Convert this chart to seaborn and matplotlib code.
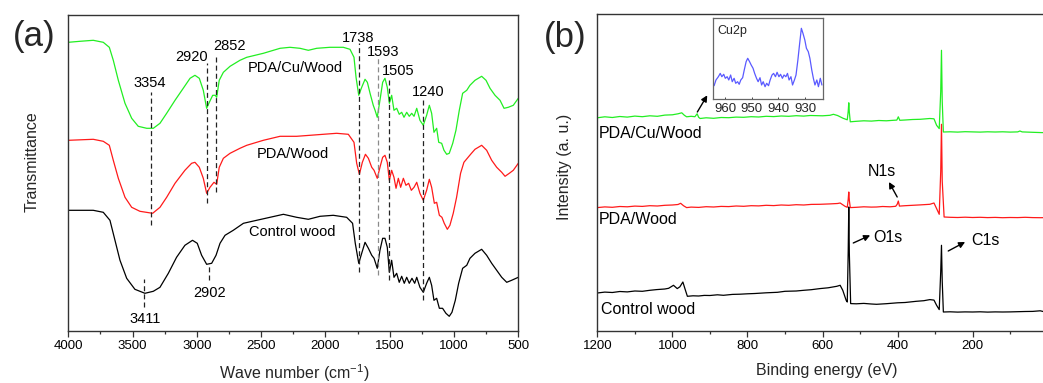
import numpy as np
import pandas as pd
import matplotlib
matplotlib.use("Agg")
import matplotlib.pyplot as plt
from matplotlib.ticker import MultipleLocator, FixedLocator
import seaborn as sns

# ---------------- data: panel (a) FTIR ----------------
wn_cu = [4000, 3909, 3806, 3728, 3681, 3650, 3611, 3559, 3507, 3456, 3390, 3339, 3287, 3235, 3170,
         3106, 3053, 3015, 2981, 2950, 2924, 2903, 2877, 2857, 2846, 2826, 2794, 2742, 2665, 2612,
         2483, 2353, 2276, 2198, 2133, 2068, 1965, 1861, 1809, 1778, 1762, 1741, 1718, 1692, 1674,
         1653, 1628, 1614, 1597, 1576, 1555, 1537, 1519, 1503, 1485, 1467, 1446, 1426, 1407, 1389,
         1368, 1348, 1329, 1311, 1290, 1265, 1239, 1213, 1192, 1174, 1156, 1135, 1119, 1096, 1078,
         1057, 1037, 1010, 985, 959, 933, 901, 876, 837, 785, 751, 720, 681, 642, 611, 578, 539, 500]
t_cu = [289, 290, 291, 289, 284, 271, 251, 228, 213, 205, 203, 203, 208, 218, 231,
        243, 253, 256, 253, 241, 223, 229, 236, 236, 234, 251, 259, 265, 271, 274,
        278, 283, 284, 283, 281, 283, 284, 284, 282, 274, 254, 236, 244, 252, 249,
        238, 226, 221, 214, 231, 249, 253, 244, 228, 236, 221, 223, 217, 219, 214,
        219, 215, 218, 215, 223, 211, 206, 216, 226, 218, 199, 203, 189, 188, 181,
        177, 178, 188, 201, 221, 238, 241, 246, 251, 255, 251, 243, 236, 231, 223, 224, 226, 233]

wn_pda = [4000, 3806, 3728, 3681, 3650, 3611, 3559, 3507, 3443, 3344, 3287, 3235, 3170, 3093, 3041,
          3015, 2981, 2950, 2924, 2898, 2867, 2846, 2826, 2794, 2742, 2665, 2612, 2483, 2353, 2224,
          2120, 2017, 1913, 1822, 1778, 1757, 1736, 1713, 1689, 1666, 1640, 1622, 1597, 1576, 1555,
          1537, 1519, 1503, 1485, 1467, 1451, 1433, 1415, 1394, 1374, 1353, 1332, 1311, 1290, 1265,
          1239, 1213, 1192, 1174, 1153, 1135, 1114, 1094, 1076, 1052, 1032, 1006, 980, 949, 923,
          897, 871, 837, 785, 746, 707, 668, 629, 603, 570, 539, 500]
t_pda = [191, 192, 190, 186, 171, 153, 134, 124, 120, 118, 124, 134, 148, 161, 168,
         169, 164, 153, 138, 144, 149, 147, 164, 173, 178, 183, 186, 191, 195, 195,
         196, 197, 198, 197, 189, 168, 157, 169, 177, 173, 164, 161, 153, 164, 174,
         176, 169, 151, 161, 154, 143, 153, 144, 153, 146, 148, 141, 144, 149, 138,
         131, 141, 152, 144, 128, 129, 116, 114, 108, 102, 106, 118, 134, 158, 169,
         173, 177, 182, 186, 181, 171, 164, 159, 155, 158, 161, 168]

wn_ctl = [4000, 3806, 3728, 3676, 3637, 3598, 3546, 3482, 3404, 3339, 3287, 3222, 3158, 3093, 3034,
          2997, 2963, 2924, 2885, 2851, 2820, 2781, 2717, 2638, 2535, 2431, 2327, 2224, 2133, 2042,
          1939, 1835, 1789, 1768, 1741, 1718, 1692, 1666, 1640, 1622, 1597, 1576, 1555, 1537, 1519,
          1503, 1485, 1467, 1446, 1426, 1407, 1387, 1368, 1348, 1327, 1306, 1290, 1265, 1239, 1213,
          1192, 1174, 1156, 1135, 1114, 1089, 1063, 1037, 1016, 990, 964, 933, 901, 876, 837,
          785, 746, 707, 668, 629, 590, 552, 500]
t_ctl = [121, 121, 119, 111, 91, 71, 53, 42, 38, 40, 44, 58, 74, 86, 91,
         88, 76, 67, 68, 76, 88, 96, 101, 108, 111, 114, 117, 114, 112, 115,
         116, 114, 108, 88, 68, 78, 89, 83, 76, 73, 63, 81, 93, 93, 84,
         59, 71, 54, 58, 49, 55, 48, 54, 48, 53, 48, 54, 44, 39, 48,
         54, 46, 31, 33, 23, 23, 18, 15, 19, 31, 48, 63, 66, 73, 78,
         82, 76, 68, 61, 54, 49, 51, 54]

peak_labels_top = ["3354", "2920", "2852", "1738", "1593", "1505", "1240"]
peak_labels_bottom = ["3411", "2902"]
series_a = ["PDA/Cu/Wood", "PDA/Wood", "Control wood"]
ticks_a = [4000, 3500, 3000, 2500, 2000, 1500, 1000, 500]

# ---------------- data: panel (b) XPS survey ----------------
ev_cu = [1200, 1180, 1160, 1140, 1120, 1100, 1080, 1060, 1040, 1020, 1000, 985, 975, 968, 962,
         950, 940, 934, 930, 926, 910, 890, 870, 850, 830, 810, 790, 770, 750, 730, 710, 690,
         670, 650, 633, 600, 580, 571, 560, 545, 534, 531.5, 530, 528.5, 526, 510, 490, 470, 450,
         430, 411, 402, 398, 394, 380, 360, 340, 314, 303, 296, 289, 285, 283, 281, 278, 260,
         240, 220, 200, 180, 160, 140, 120, 100, 80, 74, 68, 40, 16, 0]
i_cu = [213.5, 214.5, 213.8, 214.8, 214.2, 215.2, 214.6, 215.5, 215.0, 216.2, 216.5, 217.5, 218.5, 216.0, 214.5,
        215.0, 214.6, 217.5, 214.0, 212.8, 213.5, 213.0, 213.8, 213.6, 214.2, 214.0, 214.6, 214.3, 215.0, 214.7, 215.3, 215.0,
        215.6, 215.2, 215.8, 215.5, 216.0, 217.0, 215.8, 213.0, 211.5, 220.0, 228.5, 219.0, 209.5, 210.0, 210.5, 210.2, 210.8,
        210.5, 211.0, 211.2, 214.5, 211.0, 211.3, 211.8, 212.0, 212.8, 212.5, 206.0, 202.7, 240.0, 281.0, 230.0, 199.3, 199.5,
        199.2, 199.6, 199.4, 199.2, 199.5, 199.3, 199.5, 199.2, 199.4, 200.3, 199.4, 199.0, 198.7, 198.7]

ev_pda = [1200, 1180, 1160, 1140, 1120, 1100, 1080, 1060, 1040, 1020, 1000, 985, 978, 970, 962,
          950, 930, 910, 890, 870, 850, 830, 810, 790, 770, 750, 730, 710, 690, 670, 650, 630,
          607, 580, 560, 553, 540, 534, 531.5, 530, 528.5, 526, 510, 490, 470, 456, 440, 420,
          405, 401, 398, 395, 380, 360, 340, 314, 303, 296, 289, 285, 283, 281, 276, 260, 240,
          220, 200, 180, 160, 140, 120, 100, 80, 60, 40, 20, 0]
i_pda = [123.7, 124.4, 124.0, 124.8, 124.5, 125.2, 124.9, 125.6, 125.3, 126.0, 126.3, 126.8, 128.0, 125.5, 123.7,
         124.2, 123.9, 124.6, 124.3, 124.9, 124.7, 125.3, 125.0, 125.6, 125.4, 126.0, 125.7, 126.3, 126.0, 126.6, 126.3, 126.9,
         127.0, 127.4, 127.8, 128.3, 125.0, 124.0, 132.0, 139.3, 131.0, 123.7, 124.0, 124.5, 124.2, 124.3, 124.8, 124.5,
         125.0, 127.0, 130.3, 125.2, 125.6, 126.0, 126.4, 127.0, 128.3, 122.7, 117.0, 160.0, 207.0, 150.0, 114.3, 114.0, 113.8,
         114.1, 113.8, 114.0, 113.7, 113.9, 113.6, 113.8, 113.7, 114.0, 113.7, 113.6, 113.7]

ev_ctl = [1200, 1180, 1160, 1140, 1120, 1100, 1080, 1060, 1042, 1020, 1010, 997, 987, 980, 972,
          966, 960, 945, 930, 915, 900, 880, 864, 840, 820, 800, 780, 750, 720, 700, 670, 650,
          630, 607, 585, 562, 553, 546, 537, 534, 531.5, 530, 528.5, 525, 510, 490, 470, 456,
          430, 400, 380, 350, 330, 314, 303, 296, 289, 285, 283, 281, 278, 260, 240, 220, 200,
          180, 160, 140, 120, 100, 80, 60, 40, 20, 10, 0]
i_ctl = [38.3, 39.2, 38.8, 39.8, 39.4, 40.3, 40.0, 41.0, 41.7, 42.3, 43.0, 46.0, 42.7, 44.5, 49.3,
         42.0, 35.0, 35.5, 35.3, 35.9, 35.8, 36.5, 36.0, 36.9, 37.1, 37.5, 37.8, 38.5, 39.0, 40.0, 40.3, 41.0,
         41.6, 42.7, 43.5, 45.0, 46.0, 41.0, 31.0, 29.3, 80.0, 124.3, 78.0, 27.7, 27.5, 27.9, 27.3, 27.0,
         27.6, 28.5, 28.8, 30.0, 30.6, 31.7, 31.2, 26.0, 21.7, 60.0, 86.0, 50.0, 19.3, 19.5, 19.2, 19.4, 19.3,
         19.5, 19.2, 19.4, 19.3, 19.4, 19.6, 19.8, 19.9, 20.5, 19.6, 19.3]

series_b = ["PDA/Cu/Wood", "PDA/Wood", "Control wood"]
element_labels = ["N1s", "O1s", "C1s"]
ticks_b = [1200, 1000, 800, 600, 400, 200]
minor_b = [1100, 900, 700, 500, 300, 100]

# ---------------- data: inset Cu2p ----------------
ev_in = [964.1, 963.4, 962.5, 961.8, 961.2, 960.5, 959.9, 959.2, 958.6, 957.9, 957.3, 956.6, 956.0,
         955.3, 954.7, 954.1, 953.4, 952.8, 952.1, 951.5, 950.8, 950.2, 949.5, 948.9, 948.2, 947.6,
         946.9, 946.3, 945.7, 945.0, 944.4, 943.7, 943.1, 942.4, 941.8, 941.1, 940.5, 939.8, 939.2,
         938.5, 937.9, 937.2, 936.6, 936.0, 935.3, 934.7, 934.0, 933.4, 932.7, 932.1, 931.4, 930.8,
         930.1, 929.5, 928.8, 928.2, 927.5, 926.9, 926.3, 925.6, 925.0, 924.3, 923.7]
i_in = [13.6, 19.3, 22.6, 25.9, 22.6, 25.0, 21.0, 22.6, 19.3, 24.3, 17.6, 21.0, 16.0,
        17.6, 15.0, 19.3, 21.6, 29.3, 37.6, 41.0, 37.6, 34.3, 31.0, 25.9, 21.0, 17.6,
        21.6, 14.3, 17.6, 12.6, 16.0, 13.6, 19.3, 24.3, 25.9, 22.6, 27.0, 22.6, 25.0,
        21.0, 24.3, 22.6, 25.9, 19.3, 22.6, 14.3, 19.3, 24.3, 39.3, 54.3, 71.0, 66.0,
        59.3, 51.0, 47.6, 41.0, 29.3, 21.0, 14.3, 19.3, 12.6, 21.0, 14.3]
inset_ticks = [960, 950, 940, 930]

# ---------------- styling ----------------
sns.set_theme(style="ticks")
plt.rcParams["font.family"] = ["Liberation Sans", "DejaVu Sans"]
plt.rcParams["mathtext.default"] = "regular"
plt.rcParams["axes.edgecolor"] = "#333333"
plt.rcParams["axes.linewidth"] = 1.0

W, H = 1043, 383
fig = plt.figure(figsize=(W / 100, H / 100), dpi=100)
fig.patch.set_facecolor("white")

def fx(px):
    return px / W

def fy(py):
    return 1 - py / H

GREEN, RED, BLACK, BLUE = "#22ee22", "#ff1a1a", "#000000", "#5a5aff"

# ---------- panel (a) ----------
ax_a = fig.add_axes([fx(68.3), fy(331.3), (518.3 - 68.3) / W, (331.3 - 14.7) / H])
for wn, t, c in [(wn_cu, t_cu, GREEN), (wn_pda, t_pda, RED), (wn_ctl, t_ctl, BLACK)]:
    sns.lineplot(x=wn, y=t, ax=ax_a, color=c, lw=0.9, estimator=None, sort=False)
ax_a.set_xlim(4000, 500)
ax_a.set_ylim(0, 316.6)
ax_a.xaxis.set_major_locator(FixedLocator(ticks_a))
ax_a.xaxis.set_minor_locator(MultipleLocator(250))
ax_a.set_yticks([])

# dashed peak markers (x = labelled wavenumber)
dash_top = {"3354": (106, 239), "2920": (128, 268), "2852": (139, 276), "1738": (59, 288),
            "1593": (56, 274), "1505": (51, 253), "1240": (31, 233)}
dash_bot = {"3411": (24, 52), "2902": (51, 66)}
for lab, (y0, y1) in {**dash_top, **dash_bot}.items():
    col = "#8a8a8a" if lab == "1593" else "#222222"
    ax_a.vlines(float(lab), y0, y1, colors=col, linestyles=(0, (4, 2.5)), lw=0.9)

top_pos = {"3354": (3368, 248.3), "2920": (3038, 274.3), "2852": (2750, 285.3),
           "1738": (1747, 293.3), "1593": (1548, 279.3), "1505": (1431, 260), "1240": (1202, 239.3)}
bot_pos = {"3411": (3403, 12.7), "2902": (2898, 38.7)}
for lab in peak_labels_top:
    x, y = top_pos[lab]
    ax_a.text(x, y, lab, ha="center", va="center", fontsize=10.5, color="black")
for lab in peak_labels_bottom:
    x, y = bot_pos[lab]
    ax_a.text(x, y, lab, ha="center", va="center", fontsize=10.5, color="black")

name_pos_a = [(2231, 263), (2255, 177), (2256, 99.7)]
for name, (x, y) in zip(series_a, name_pos_a):
    ax_a.text(x, y, name, ha="center", va="center", fontsize=10.5, color="black")

# ---------- panel (b) ----------
ax_b = fig.add_axes([fx(597.3), fy(331.3), 450.4 / W, (331.3 - 14.3) / H])
for ev, it, c in [(ev_cu, i_cu, GREEN), (ev_pda, i_pda, RED), (ev_ctl, i_ctl, BLACK)]:
    sns.lineplot(x=ev, y=it, ax=ax_b, color=c, lw=0.9, estimator=None, sort=False)
ax_b.set_xlim(1200, 0)
ax_b.set_ylim(0, 317)
ax_b.xaxis.set_major_locator(FixedLocator(ticks_b))
ax_b.xaxis.set_minor_locator(FixedLocator(minor_b))
ax_b.set_yticks([])
ax_b.spines["right"].set_visible(False)

name_pos_b = [(1195, 197.7), (1195, 111.7), (1189, 21.7)]
for name, (x, y) in zip(series_b, name_pos_b):
    ax_b.text(x, y, name, ha="left", va="center", fontsize=11.5, color="black")

el_pos = {"N1s": (442, 159.3), "O1s": (427, 94.3), "C1s": (167, 91)}
for lab in element_labels:
    x, y = el_pos[lab]
    ax_b.text(x, y, lab, ha="center", va="center", fontsize=11.5, color="black")

arrows = [((401, 134.3), (423, 149.3)), ((518, 88.3), (473, 96)),
          ((265, 80.3), (220, 89.3)), ((933.5, 219.3), (907, 236))]
for tail, head in arrows:
    ax_b.annotate("", xy=head, xytext=tail,
                  arrowprops=dict(arrowstyle="-|>", color="black", lw=1.0,
                                  mutation_scale=9, shrinkA=0, shrinkB=0))

# ---------- inset ----------
ax_in = fig.add_axes([fx(713.3), fy(99.3), 109.4 / W, 81 / H])
sns.lineplot(x=ev_in, y=i_in, ax=ax_in, color=BLUE, lw=0.9, estimator=None, sort=False)
ax_in.set_xlim(964.4, 923.4)
ax_in.set_ylim(0, 81)
ax_in.set_xticks(inset_ticks)
ax_in.set_xticklabels([str(v) for v in inset_ticks])
ax_in.set_yticks([])
ax_in.tick_params(axis="x", direction="in", length=1.5, width=0.6, labelsize=9.5, pad=2.5)
for s in ax_in.spines.values():
    s.set_color("#666666")
    s.set_linewidth(0.9)
ax_in.text(0.04, 0.84, "Cu2p", transform=ax_in.transAxes, ha="left", va="center", fontsize=9)
ax_in.set_xlabel("")
ax_in.set_ylabel("")

for ax in (ax_a, ax_b):
    ax.tick_params(axis="x", which="major", direction="out", length=4.2, width=0.9,
                   labelsize=9.5, pad=2.0, colors="#333333", labelcolor="black")
    ax.tick_params(axis="x", which="minor", direction="out", length=2.3, width=0.9, colors="#333333")
    ax.set_xlabel("")
    ax.set_ylabel("")
    ax.set_facecolor("white")

# axis labels and panel labels
fig.text(fx(293.8), fy(373), "Wave number (cm$^{-1}$)", ha="center", va="center", fontsize=11.5)
fig.text(fx(827), fy(370.7), "Binding energy (eV)", ha="center", va="center", fontsize=11.5)
fig.text(fx(32), fy(162), "Transmittance", ha="center", va="center", rotation=90, fontsize=11.5)
fig.text(fx(564), fy(166.7), "Intensity (a. u.)", ha="center", va="center", rotation=90, fontsize=11.5)
fig.text(fx(34.5), fy(36.7), "(a)", ha="center", va="center", fontsize=25)
fig.text(fx(565), fy(37.5), "(b)", ha="center", va="center", fontsize=25)

fig.savefig("out.png", dpi=100, facecolor="white")
